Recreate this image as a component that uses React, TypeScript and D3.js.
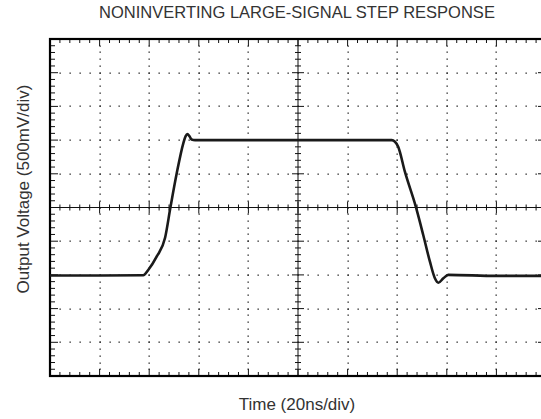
import React, { useEffect, useRef } from "react";
import * as d3 from "d3";

// Scope trace: time in ns, output in volts
const traceTime = [
  0, 20, 37.6, 39.6, 43.0, 46.4, 48.6, 51.1, 53.75, 54.7, 55.4, 56.2, 57.1,
  58.5, 100, 137.8, 139.0, 140.4, 143.1, 147.5, 150.5, 153.2, 155.2, 156.6,
  158.6, 160.6, 180, 200,
];
const traceVolts = [
  -1.01, -1.01, -1.006, -0.927, -0.73, -0.45, 0.01, 0.507, 0.953, 1.06, 1.09,
  1.06, 1.01, 1.0, 1.0, 1.0, 0.98, 0.902, 0.531, 0.012, -0.408, -0.804,
  -1.05, -1.116, -1.05, -1.0, -1.015, -1.015,
];

const title = "NONINVERTING LARGE-SIGNAL STEP RESPONSE";
const xLabel = "Time (20ns/div)";
const yLabel = "Output Voltage (500mV/div)";

const timeDomain = [0, 200]; // 20ns/div, 10 div
const voltDomain = [-2.5, 2.5]; // 500mV/div, 10 div
const divisions = 10;
const minorPerDiv = 5;

const W = 541;
const H = 419;
const margin = { top: 39, right: -5, bottom: 43, left: 50 };

const App: React.FC = () => {
  const svgRef = useRef<SVGSVGElement | null>(null);

  useEffect(() => {
    const svg = d3.select(svgRef.current).attr("width", W).attr("height", H);
    svg.selectAll("*").remove();

    const x = d3
      .scaleLinear()
      .domain(timeDomain)
      .range([margin.left, W - margin.right]);
    const y = d3
      .scaleLinear()
      .domain(voltDomain)
      .range([H - margin.bottom, margin.top]);

    const x0 = x(timeDomain[0]);
    const x1 = x(timeDomain[1]);
    const y0 = y(voltDomain[0]);
    const y1 = y(voltDomain[1]);
    const xc = x((timeDomain[0] + timeDomain[1]) / 2);
    const yc = y(0);

    const tStep = (timeDomain[1] - timeDomain[0]) / divisions;
    const vStep = (voltDomain[1] - voltDomain[0]) / divisions;
    const tMinor = d3.range(0, divisions * minorPerDiv + 1).map(
      (i) => timeDomain[0] + (i * tStep) / minorPerDiv
    );
    const vMinor = d3.range(0, divisions * minorPerDiv + 1).map(
      (i) => voltDomain[0] + (i * vStep) / minorPerDiv
    );
    const tMajor = d3.range(1, divisions).map((i) => timeDomain[0] + i * tStep);
    const vMajor = d3.range(1, divisions).map((i) => voltDomain[0] + i * vStep);

    // Dotted grid
    const dots = svg.append("g").attr("fill", "#222");
    tMajor
      .filter((_, i) => i !== 4)
      .forEach((t) => {
        vMinor.forEach((v) => {
          dots
            .append("rect")
            .attr("x", Math.round(x(t)) - 0.5)
            .attr("y", Math.round(y(v)) - 0.5)
            .attr("width", 1.3)
            .attr("height", 1.3);
        });
      });
    vMajor
      .filter((_, i) => i !== 4)
      .forEach((v) => {
        tMinor.forEach((t) => {
          dots
            .append("rect")
            .attr("x", Math.round(x(t)) - 0.5)
            .attr("y", Math.round(y(v)) - 0.5)
            .attr("width", 1.3)
            .attr("height", 1.3);
        });
      });

    // Center axes with cross ticks
    const axes = svg.append("g").attr("stroke", "#111").attr("stroke-width", 1);
    axes.append("line").attr("x1", x0).attr("x2", x1).attr("y1", yc).attr("y2", yc);
    axes.append("line").attr("x1", xc).attr("x2", xc).attr("y1", y0).attr("y2", y1);
    tMinor.forEach((t, i) => {
      const len = i % minorPerDiv === 0 ? 6 : 3;
      axes
        .append("line")
        .attr("x1", x(t))
        .attr("x2", x(t))
        .attr("y1", yc - len)
        .attr("y2", yc + len);
    });
    vMinor.forEach((v, i) => {
      const len = i % minorPerDiv === 0 ? 6 : 3;
      axes
        .append("line")
        .attr("x1", xc - len)
        .attr("x2", xc + len)
        .attr("y1", y(v))
        .attr("y2", y(v));
    });

    // Frame ticks pointing inward
    const frameTicks = svg.append("g").attr("stroke", "#111").attr("stroke-width", 1);
    tMinor.forEach((t, i) => {
      const len = i % minorPerDiv === 0 ? 7 : 4;
      frameTicks.append("line").attr("x1", x(t)).attr("x2", x(t)).attr("y1", y1).attr("y2", y1 + len);
      frameTicks.append("line").attr("x1", x(t)).attr("x2", x(t)).attr("y1", y0).attr("y2", y0 - len);
    });
    vMinor.forEach((v, i) => {
      const len = i % minorPerDiv === 0 ? 8 : 5;
      frameTicks.append("line").attr("x1", x0).attr("x2", x0 + len).attr("y1", y(v)).attr("y2", y(v));
      frameTicks.append("line").attr("x1", x1).attr("x2", x1 - len).attr("y1", y(v)).attr("y2", y(v));
    });

    // Frame
    svg
      .append("rect")
      .attr("x", x0)
      .attr("y", y1)
      .attr("width", x1 - x0)
      .attr("height", y0 - y1)
      .attr("fill", "none")
      .attr("stroke", "#000")
      .attr("stroke-width", 2.2);

    // Trace
    const pts: [number, number][] = traceTime.map((t, i) => [t, traceVolts[i]]);
    const line = d3
      .line<[number, number]>()
      .x((d) => x(d[0]))
      .y((d) => y(d[1]))
      .curve(d3.curveMonotoneX);
    svg
      .append("path")
      .attr("d", line(pts))
      .attr("fill", "none")
      .attr("stroke", "#1a1a1a")
      .attr("stroke-width", 2.6)
      .attr("stroke-linejoin", "round");

    const font = "'Liberation Sans', Arial, sans-serif";

    // Title
    svg
      .append("text")
      .attr("x", 297)
      .attr("y", 18)
      .attr("text-anchor", "middle")
      .style("font-family", font)
      .style("font-size", "16.5px")
      .style("fill", "#333")
      .text(title);

    // x label
    svg
      .append("text")
      .attr("x", 297)
      .attr("y", 410)
      .attr("text-anchor", "middle")
      .style("font-family", font)
      .style("font-size", "17px")
      .style("fill", "#333")
      .text(xLabel);

    // y label
    svg
      .append("text")
      .attr("transform", "translate(29,189) rotate(-90)")
      .attr("text-anchor", "middle")
      .style("font-family", font)
      .style("font-size", "17px")
      .style("fill", "#333")
      .text(yLabel);
  }, []);

  return (
    <svg
      ref={svgRef}
      style={{ position: "absolute", left: 0, top: 0, background: "#fff" }}
    ></svg>
  );
};

export default App;
